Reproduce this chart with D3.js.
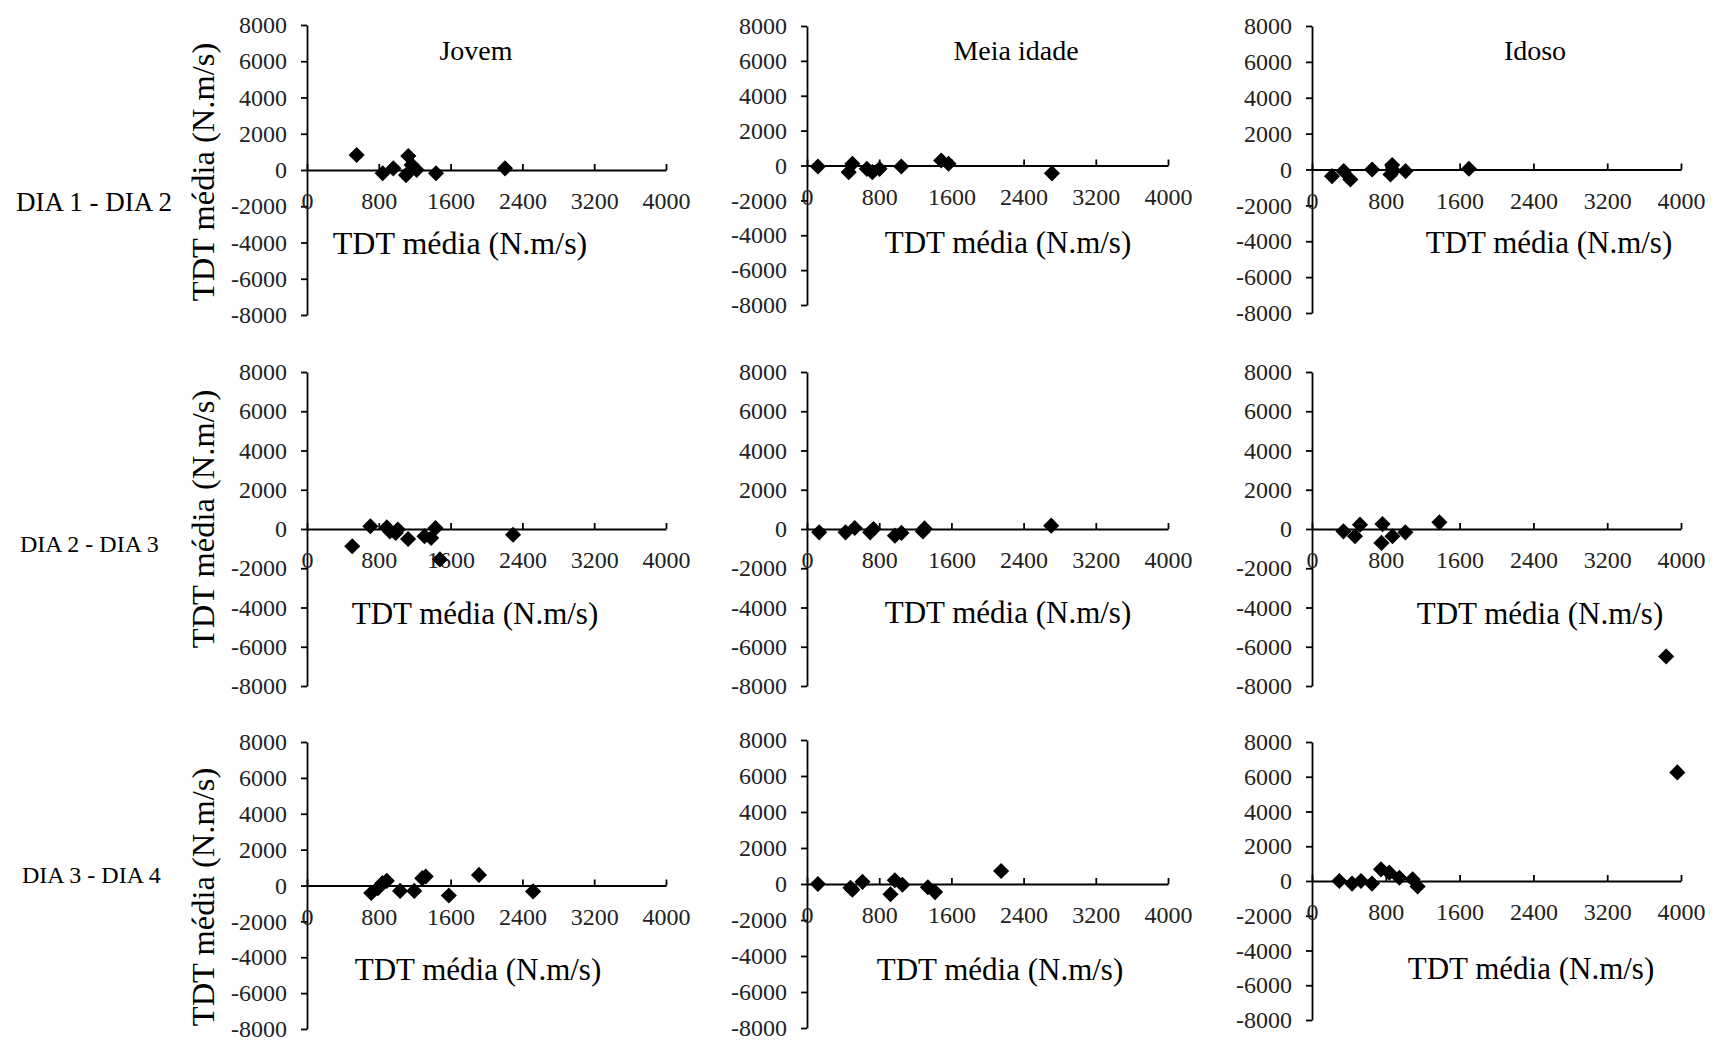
<!DOCTYPE html>
<html>
<head>
<meta charset="utf-8">
<script src="https://cdn.jsdelivr.net/npm/d3@7"></script>
<style>
  html, body { margin: 0; padding: 0; background: #fff; }
  svg { display: block; }
  text { font-family: "Liberation Serif", "Times New Roman", serif; }
</style>
</head>
<body>
<svg id="chart" width="1716" height="1041"></svg>
<script>
// Group and day-pair labels
const groups = ["Jovem", "Meia idade", "Idoso"];
const dayPairs = ["DIA 1 - DIA 2", "DIA 2 - DIA 3", "DIA 3 - DIA 4"];
const axisTitle = "TDT média (N.m/s)";

// Tick values
const xTicks = [0, 800, 1600, 2400, 3200, 4000];
const yTicks = [-8000, -6000, -4000, -2000, 0, 2000, 4000, 6000, 8000];

// Mean TDT (x) and difference between days (y), one pair of arrays per panel
const jovemD12Media = [553, 843, 962, 1103, 1129, 1166, 1222, 1437, 2206];
const jovemD12Dif   = [830, -180, 90, -280, 770, 280, 0, -180, 90];

const meiaD12Media = [121, 462, 503, 663, 724, 804, 1045, 1487, 1568, 2714];
const meiaD12Dif   = [-60, -380, 100, -190, -380, -190, -60, 290, 100, -450];

const idosoD12Media = [217, 344, 416, 652, 851, 869, 882, 1014, 1701];
const idosoD12Dif   = [-370, -90, -560, 0, -280, 250, -60, -90, 40];

const jovemD23Media = [504, 706, 889, 923, 988, 1012, 1126, 1309, 1383, 1432, 1481, 2296];
const jovemD23Dif   = [-880, 140, 80, -120, -200, -30, -510, -370, -460, 50, -1550, -290];

const meiaD23Media = [135, 427, 529, 700, 737, 974, 1046, 1284, 1302, 2706];
const meiaD23Dif   = [-170, -170, 50, -170, 0, -340, -200, -130, 30, 170];

const idosoD23Media = [341, 466, 520, 753, 764, 872, 1012, 1381, 3839];
const idosoD23Dif   = [-120, -370, 220, -710, 250, -370, -170, 340, -6500];

const jovemD34Media = [716, 790, 840, 889, 1037, 1195, 1284, 1323, 1580, 1916, 2519];
const jovemD34Dif   = [-420, -150, 130, 260, -300, -300, 410, 500, -560, 590, -330];

const meiaD34Media = [121, 482, 503, 615, 925, 973, 1057, 1339, 1419, 2151];
const meiaD34Dif   = [0, -210, -320, 120, -570, 210, -40, -180, -450, 720];

const idosoD34Media = [296, 434, 531, 650, 748, 838, 947, 1091, 1145, 3960];
const idosoD34Dif   = [0, -150, 0, -150, 670, 480, 190, 100, -320, 6250];

const panelData = [
  [[jovemD12Media, jovemD12Dif], [meiaD12Media, meiaD12Dif], [idosoD12Media, idosoD12Dif]],
  [[jovemD23Media, jovemD23Dif], [meiaD23Media, meiaD23Dif], [idosoD23Media, idosoD23Dif]],
  [[jovemD34Media, jovemD34Dif], [meiaD34Media, meiaD34Dif], [idosoD34Media, idosoD34Dif]]
];

// Layout: horizontal extent of each column, vertical extent of each panel
const colX = [[307, 666], [807, 1168], [1312, 1681]];
const panelY = [
  [[25, 315], [26, 305], [26, 313]],
  [[372, 686], [372, 686], [372, 686]],
  [[742, 1029], [740, 1028], [742, 1020]]
];
// Placement of the x-axis title in each panel (center x, baseline y, font size)
const xTitlePos = [
  [[460, 254, 32], [1008, 253, 31], [1549, 253, 31]],
  [[475, 624, 31], [1008, 623, 31], [1540, 624, 31]],
  [[478, 980, 31], [1000, 980, 31], [1531, 979, 31]]
];
const groupTitleY = 60;
const groupTitleX = [476, 1016, 1535];
const dayLabelPos = [[16, 211, 27], [20, 552, 24], [22, 883, 24]];
const yTitlePos = [[214, 172], [214, 519], [214, 897]];

const svg = d3.select("#chart");
const ink = "#000";
const tickInk = "#222";

const diamond = d3.symbol().type(d3.symbolSquare).size(130);

panelData.forEach((row, r) => {
  row.forEach(([xs, ys], c) => {
    const x = d3.scaleLinear().domain([0, 4000]).range(colX[c]);
    const y = d3.scaleLinear().domain([8000, -8000]).range(panelY[r][c]);
    const g = svg.append("g");

    // vertical axis through x = 0
    const yAxis = g.append("g")
      .attr("transform", `translate(${x(0)},0)`)
      .call(d3.axisLeft(y).tickValues(yTicks).tickSizeInner(6).tickSizeOuter(0)
        .tickPadding(14).tickFormat(d => String(d)));

    // horizontal axis through y = 0
    const xAxis = g.append("g")
      .attr("transform", `translate(0,${y(0)})`)
      .call(d3.axisBottom(x).tickValues(xTicks).tickSizeInner(-6).tickSizeOuter(0)
        .tickPadding(22).tickFormat(d => String(d)));

    [yAxis, xAxis].forEach(a => {
      a.select(".domain").attr("stroke", ink).attr("stroke-width", 1.8);
      a.selectAll(".tick line").attr("stroke", ink).attr("stroke-width", 1.8);
      a.selectAll(".tick text")
        .attr("fill", tickInk)
        .style("font-family", '"Liberation Serif", "Times New Roman", serif')
        .style("font-size", "24px");
    });

    // data points as diamonds
    g.append("g").selectAll("path")
      .data(xs.map((v, i) => [v, ys[i]]))
      .join("path")
      .attr("d", diamond)
      .attr("transform", d => `translate(${x(d[0])},${y(d[1])}) rotate(45)`)
      .attr("fill", ink);

    // x-axis title
    g.append("text")
      .attr("x", xTitlePos[r][c][0])
      .attr("y", xTitlePos[r][c][1])
      .attr("text-anchor", "middle")
      .style("font-size", xTitlePos[r][c][2] + "px")
      .attr("fill", ink)
      .text(axisTitle);
  });

  // y-axis title, first column only
  svg.append("text")
    .attr("transform", `translate(${yTitlePos[r][0]},${yTitlePos[r][1]}) rotate(-90)`)
    .attr("text-anchor", "middle")
    .style("font-size", "32.5px")
    .attr("fill", ink)
    .text(axisTitle);

  // day-pair label on the left
  svg.append("text")
    .attr("x", dayLabelPos[r][0])
    .attr("y", dayLabelPos[r][1])
    .style("font-size", dayLabelPos[r][2] + "px")
    .attr("fill", ink)
    .text(dayPairs[r]);
});

// group titles above the first row
groups.forEach((name, c) => {
  svg.append("text")
    .attr("x", groupTitleX[c])
    .attr("y", groupTitleY)
    .attr("text-anchor", "middle")
    .style("font-size", "28px")
    .attr("fill", ink)
    .text(name);
});
</script>
</body>
</html>
